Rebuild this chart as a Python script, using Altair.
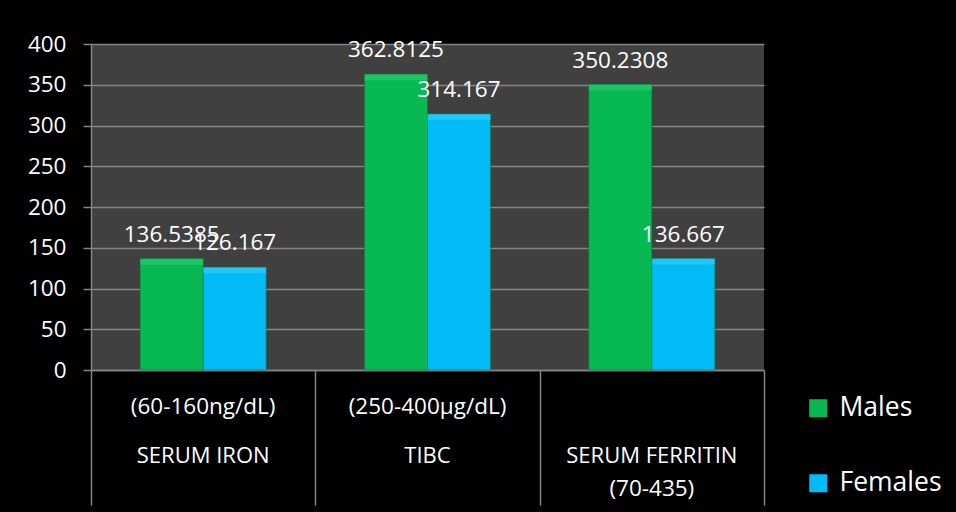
import altair as alt
import pandas as pd

# ---- data ----
categories = ["SERUM IRON", "TIBC", "SERUM FERRITIN"]
ranges_row1 = ["(60-160ng/dL)", "(250-400\u00b5g/dL)", ""]
ranges_row3 = ["", "", "(70-435)"]
series = ["Males", "Females"]
males = [136.5385, 362.8125, 350.2308]
females = [126.167, 314.167, 136.667]
value_labels_m = ["136.5385", "362.8125", "350.2308"]
value_labels_f = ["126.167", "314.167", "136.667"]
y_ticks = [0, 50, 100, 150, 200, 250, 300, 350, 400]

rows = []
for i, c in enumerate(categories):
    rows.append({"cat": c, "series": "Males", "value": males[i], "label": value_labels_m[i]})
    rows.append({"cat": c, "series": "Females", "value": females[i], "label": value_labels_f[i]})
df = pd.DataFrame(rows)
cat_df = pd.DataFrame({"cat": categories, "r1": ranges_row1, "r3": ranges_row3})

FONT = "Open Sans"
GREEN = "#08B853"
CYAN = "#00BBF6"
GRID = "#858585"

x_enc = alt.X("cat:N", sort=categories,
              scale=alt.Scale(paddingInner=0, paddingOuter=0),
              axis=alt.Axis(title=None, labels=False, tickBand="extent",
                            tickSize=135, tickColor=GRID, tickWidth=1.5,
                            domainColor=GRID, domainWidth=1.5, grid=False))
xoff = alt.XOffset("series:N", sort=series,
                   scale=alt.Scale(paddingInner=0, paddingOuter=0.78))
y_enc = alt.Y("value:Q",
              scale=alt.Scale(domain=[0, 400], nice=False),
              axis=alt.Axis(title=None, values=y_ticks, labelFont=FONT,
                            labelFontSize=22.5, labelColor="white", labelPadding=17,
                            tickSize=8, tickColor=GRID, tickWidth=1.5,
                            domainColor=GRID, domainWidth=1.5,
                            grid=True, gridColor=GRID, gridWidth=1.5))

bars = alt.Chart(df).mark_bar(stroke="#06803a", strokeWidth=0.6).encode(
    x=x_enc, xOffset=xoff, y=y_enc,
    color=alt.Color("series:N", sort=series,
                    scale=alt.Scale(domain=series, range=[GREEN, CYAN]),
                    legend=alt.Legend(title=None, orient="none", legendX=714, legendY=351,
                                      symbolType="square", symbolSize=324,
                                      symbolStrokeWidth=0, labelFont=FONT,
                                      labelFontSize=26.5, labelColor="white",
                                      labelOffset=8, rowPadding=48, padding=0))
)

top_hi = alt.Chart(df).mark_bar(y2Offset=6, opacity=0.4).encode(
    x=x_enc, xOffset=xoff, y="value:Q", y2="value:Q",
    color=alt.condition(alt.datum.series == "Males", alt.value("#3ddc85"), alt.value("#4fd4ff"))
)

labels = alt.Chart(df).mark_text(font=FONT, fontSize=22.5, color="white",
                                 baseline="middle", dy=-24).encode(
    x=x_enc, xOffset=xoff, y="value:Q", text="label:N"
)

row1 = alt.Chart(cat_df).mark_text(font=FONT, fontSize=22.5, color="white",
                                   baseline="middle").encode(
    x=alt.X("cat:N", sort=categories), y=alt.value(363), text="r1:N")
row2 = alt.Chart(cat_df).mark_text(font=FONT, fontSize=22, color="white",
                                   baseline="middle").encode(
    x=alt.X("cat:N", sort=categories), y=alt.value(412), text="cat:N")
row3 = alt.Chart(cat_df).mark_text(font=FONT, fontSize=22.5, color="white",
                                   baseline="middle").encode(
    x=alt.X("cat:N", sort=categories), y=alt.value(445), text="r3:N")

chart = alt.layer(bars, top_hi, labels, row1, row2, row3).properties(
    width=673, height=326, background="black",
    padding={"left": 91, "top": 44, "right": 192, "bottom": 142},
    autosize=alt.AutoSizeParams(type="none"),
).configure_view(fill="#404040", stroke=None)

chart.save("out.html", embed_options={"renderer": "svg", "actions": False})
